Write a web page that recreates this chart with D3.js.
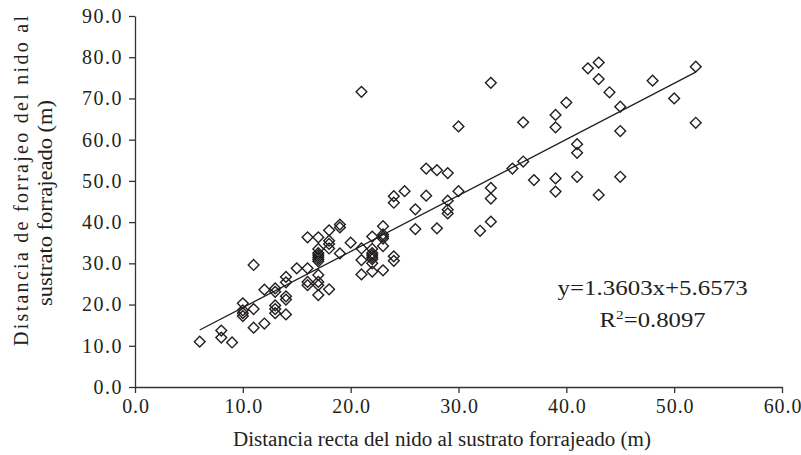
<!DOCTYPE html>
<html>
<head>
<meta charset="utf-8">
<script src="https://cdn.jsdelivr.net/npm/d3@7"></script>
<style>
  body { margin: 0; background: #fff; }
  text { font-family: "Liberation Serif", "Times New Roman", serif; fill: #231f20; }
</style>
</head>
<body>
<div id="chart"></div>
<script>
// Distancia recta del nido al sustrato forrajeado (m)
var distRecta = [
  6, 8, 8, 9,
  10, 10, 10, 10,
  11, 11, 11,
  12, 12,
  13, 13, 13, 13, 13,
  14, 14, 14, 14, 14,
  15,
  16, 16, 16, 16,
  17, 17, 17, 17, 17, 17, 17, 17, 17, 17, 17,
  18, 18, 18, 18, 18,
  19, 19, 19,
  20,
  21, 21, 21, 21,
  22, 22, 22, 22, 22, 22, 22, 22,
  23, 23, 23, 23, 23, 23,
  24, 24, 24, 24,
  25,
  26, 26,
  27, 27,
  28, 28,
  29, 29, 29, 29,
  30, 30,
  32,
  33, 33, 33, 33,
  35,
  36, 36,
  37,
  39, 39, 39, 39,
  40,
  41, 41, 41,
  42,
  43, 43, 43,
  44,
  45, 45, 45,
  48,
  50,
  52, 52
];

// Distancia de forrajeo del nido al sustrato forrajeado (m)
var distForrajeo = [
  11.0, 13.7, 12.0, 10.8,
  20.3, 18.6, 17.9, 17.2,
  29.6, 18.9, 14.4,
  15.4, 23.6,
  23.9, 23.1, 19.8, 18.9, 17.9,
  26.7, 25.4, 22.0, 21.2, 17.6,
  28.8,
  36.3, 28.8, 25.5, 24.7,
  36.3, 33.5, 32.5, 32.0, 31.5, 31.0, 30.5, 27.2, 25.5, 24.7, 22.3,
  38.0, 35.5, 34.7, 33.6, 23.7,
  39.4, 38.7, 32.4,
  35.0,
  71.6, 33.6, 30.8, 27.3,
  36.5, 33.5, 32.5, 32.0, 31.5, 31.0, 30.0, 28.0,
  39.0, 37.0, 36.5, 36.0, 34.2, 28.3,
  46.3, 44.7, 31.7, 30.6,
  47.5,
  43.1, 38.3,
  53.0, 46.4,
  52.6, 38.5,
  51.9, 45.2, 43.0, 42.1,
  63.2, 47.5,
  37.9,
  73.8, 48.3, 45.7, 40.1,
  53.0,
  64.2, 54.7,
  50.2,
  66.0, 63.0, 50.6, 47.4,
  69.0,
  58.9, 56.8, 51.0,
  77.3,
  78.7, 74.7, 46.6,
  71.5,
  68.0, 62.1, 51.0,
  74.3,
  70.0,
  77.7, 64.1
];

var xTicks = [0, 10, 20, 30, 40, 50, 60];
var yTicks = [0, 10, 20, 30, 40, 50, 60, 70, 80, 90];

// Linear trend shown on the chart
var slope = 1.3603;
var intercept = 5.6573;
var rSquared = 0.8097;

var xTitle = "Distancia recta del nido al sustrato forrajeado (m)";
var yTitle = ["Distancia de forrajeo del nido al", "sustrato forrajeado (m)"];

// Margin conventions
var totalWidth = 801, totalHeight = 455;
var margin = {top: 16, right: 19, bottom: 68, left: 135};
var width = totalWidth - margin.left - margin.right,
    height = totalHeight - margin.top - margin.bottom;

var svg = d3.select("#chart")
            .append("svg")
            .attr("width", totalWidth)
            .attr("height", totalHeight)
            .append("g")
            .attr("transform", "translate(" + margin.left + "," + margin.top + ")");

var xScale = d3.scaleLinear().domain([0, 60]).range([0, width]);
var yScale = d3.scaleLinear().domain([0, 90]).range([height, 0]);

var xAxis = d3.axisBottom(xScale)
              .tickValues(xTicks)
              .tickSize(6)
              .tickSizeOuter(0)
              .tickPadding(6)
              .tickFormat(d3.format(".1f"));

var yAxis = d3.axisLeft(yScale)
              .tickValues(yTicks)
              .tickSize(6)
              .tickSizeOuter(0)
              .tickPadding(6)
              .tickFormat(d3.format(".1f"));

var xAxisGroup = svg.append("g")
                    .attr("class", "x axis")
                    .attr("transform", "translate(0," + height + ")")
                    .call(xAxis);

var yAxisGroup = svg.append("g")
                    .attr("class", "y axis")
                    .call(yAxis);

svg.selectAll(".axis path, .axis line")
   .attr("stroke", "#333")
   .attr("stroke-width", 1.3);

svg.selectAll(".axis text")
   .attr("font-size", 20)
   .attr("font-family", "Liberation Serif, serif")
   .attr("fill", "#231f20");

yAxisGroup.selectAll("text").attr("letter-spacing", 1.5);
xAxisGroup.selectAll("text").attr("letter-spacing", 0.9).attr("dx", 0.5);

// Points (open diamonds)
var diamond = d3.symbol().type(d3.symbolSquare).size(58);
var points = d3.range(distRecta.length).map(function(i) {
  return {x: distRecta[i], y: distForrajeo[i]};
});

svg.selectAll("path.point")
   .data(points)
   .enter()
   .append("path")
   .attr("class", "point")
   .attr("d", diamond)
   .attr("transform", function(d) {
     return "translate(" + xScale(d.x) + "," + yScale(d.y) + ") rotate(45)";
   })
   .attr("fill", "none")
   .attr("stroke", "#231f20")
   .attr("stroke-width", 1.4);

// Trend line over the range of the data
var xExtent = d3.extent(distRecta);
svg.append("line")
   .attr("x1", xScale(xExtent[0]))
   .attr("y1", yScale(slope * xExtent[0] + intercept))
   .attr("x2", xScale(xExtent[1]))
   .attr("y2", yScale(slope * xExtent[1] + intercept))
   .attr("stroke", "#231f20")
   .attr("stroke-width", 1.3);

// Equation
svg.append("text")
   .attr("x", xScale(48.0))
   .attr("y", yScale(22.3))
   .attr("text-anchor", "middle")
   .attr("font-size", 21)
   .attr("textLength", 190)
   .attr("lengthAdjust", "spacingAndGlyphs")
   .text("y=" + slope + "x+" + intercept);

var r2 = svg.append("text")
            .attr("x", xScale(48.0))
            .attr("y", yScale(14.6))
            .attr("text-anchor", "middle")
            .attr("font-size", 21)
            .attr("textLength", 106)
            .attr("lengthAdjust", "spacingAndGlyphs");
r2.append("tspan").text("R");
r2.append("tspan").attr("dy", -8).attr("font-size", 13).text("2");
r2.append("tspan").attr("dy", 8).text("=" + rSquared);

// Axis titles
svg.append("text")
   .attr("x", 442 - margin.left)
   .attr("y", height + 59)
   .attr("text-anchor", "middle")
   .attr("font-size", 20)
   .attr("textLength", 418)
   .attr("lengthAdjust", "spacingAndGlyphs")
   .text(xTitle);

svg.append("text")
   .attr("transform", "translate(" + (-107) + "," + (181 - margin.top) + ") rotate(-90)")
   .attr("text-anchor", "middle")
   .attr("font-size", 20)
   .attr("textLength", 330)
   .attr("lengthAdjust", "spacing")
   .text(yTitle[0]);

svg.append("text")
   .attr("transform", "translate(" + (-83) + "," + (203 - margin.top) + ") rotate(-90)")
   .attr("text-anchor", "middle")
   .attr("font-size", 20)
   .attr("textLength", 206)
   .attr("lengthAdjust", "spacingAndGlyphs")
   .text(yTitle[1]);
</script>
</body>
</html>
